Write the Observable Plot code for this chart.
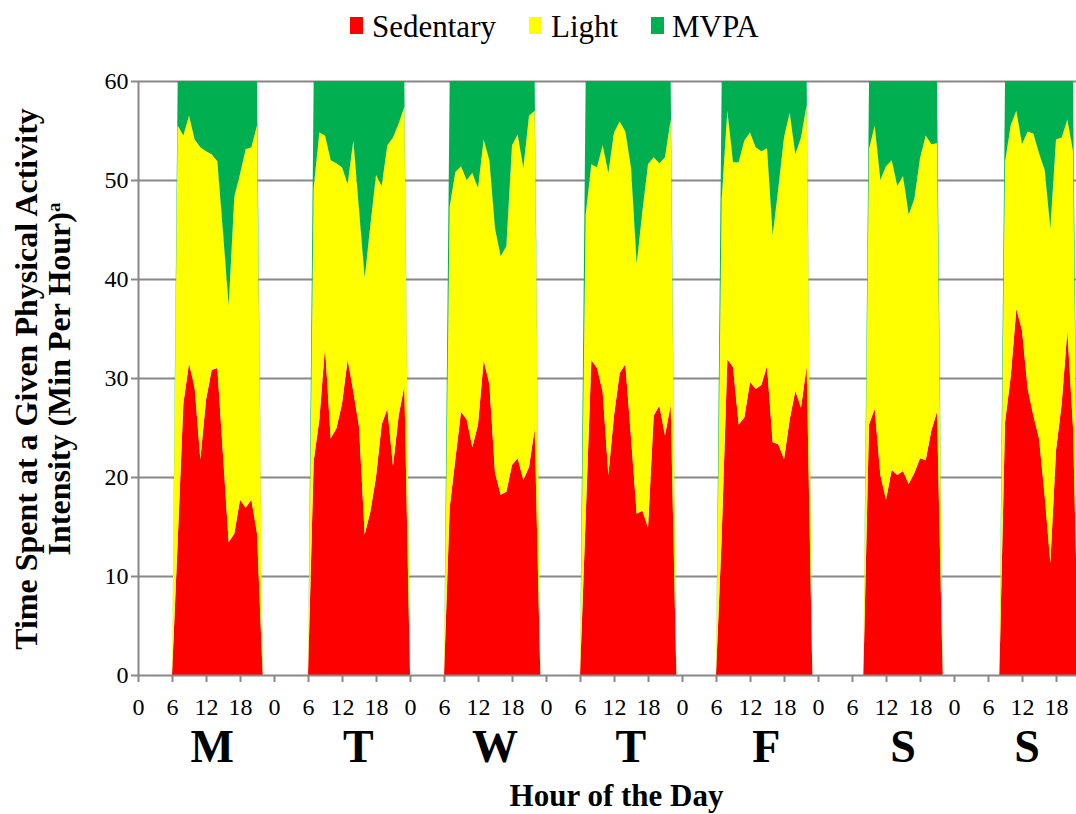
<!DOCTYPE html>
<html><head><meta charset="utf-8">
<script src="https://cdn.jsdelivr.net/npm/d3@7"></script>
<script src="https://cdn.jsdelivr.net/npm/@observablehq/plot@0.6"></script>
<style>
body{margin:0;background:#fff;font-family:"Liberation Serif","Times New Roman",serif;}
#legend{height:55px;}
#legend svg, #chart svg{display:block;}
#chart svg text{font-family:"Liberation Serif","Times New Roman",serif !important;}
</style></head><body>
<div id="legend"></div>
<div id="chart"></div>
<script>
const dayNames = ["M","T","W","T","F","S","S"];
const dayLabelHours = [13, 38.8, 62.9, 86.9, 110.8, 134.9, 156.8];
const seriesNames = ["Sedentary","Light","MVPA"];
const seriesColors = ["#FF0000","#FFFF00","#00B050"];
const firstHour = [7,7,7,7,7,9,9]; // first hour with data for each day
const sedentary = [
 [13.5,27.4,31.5,29.0,21.8,27.8,30.8,31.0,22.2,13.4,14.3,17.7,16.9,17.7,14.3],
 [21.6,25.8,33.1,23.9,24.9,27.4,31.9,28.6,25.1,14.2,16.5,20.0,25.3,26.9,21.1,26.2,29.2],
 [16.9,21.8,26.6,25.8,23.0,25.3,31.8,29.4,20.4,18.2,18.5,21.2,21.9,19.7,21.0,24.9],
 [16.0,31.8,31.0,28.6,20.2,26.2,30.5,31.4,24.0,16.3,16.6,14.9,26.2,27.2,24.2,27.3],
 [14.0,31.9,31.1,25.3,26.0,29.6,28.9,29.3,31.2,23.5,23.3,21.8,25.8,28.7,27.0,31.2],
 [25.3,26.9,20.2,17.7,20.7,20.2,20.6,19.3,20.4,21.9,21.7,24.7,26.6],
 [25.5,30.1,37.0,34.8,28.9,26.2,23.9,18.1,11.3,22.7,27.4,34.8,25.0]
];
const light = [
 [42.0,27.1,25.0,25.1,31.5,25.1,21.8,20.9,22.5,23.9,34.0,32.9,36.2,35.6,41.2],
 [27.6,29.0,21.4,28.1,26.8,23.9,17.7,25.4,21.9,25.9,28.9,30.5,24.1,26.6,33.2,29.5,28.2],
 [30.4,29.0,24.8,24.2,27.7,23.9,22.3,22.6,24.7,24.1,24.8,32.3,32.7,31.5,35.5,32.1],
 [30.5,19.8,20.3,24.9,30.5,28.6,25.4,23.5,27.2,25.2,30.2,36.7,26.1,24.5,28.1,28.8],
 [34.0,25.1,20.7,26.5,28.0,25.2,24.4,23.6,22.0,20.9,25.9,32.5,31.0,23.9,27.3,26.4],
 [27.8,28.6,29.8,33.7,31.3,29.2,29.8,27.2,27.7,30.3,32.8,28.9,27.1],
 [26.3,25.4,20.0,18.8,26.0,28.5,28.8,32.9,33.8,31.4,26.9,21.3,27.9]
];
const mvpa = [
 [4.5,5.5,3.5,5.9,6.7,7.1,7.4,8.1,15.3,22.7,11.7,9.4,6.9,6.7,4.5],
 [10.8,5.2,5.5,8.0,8.3,8.7,10.4,6.0,13.0,19.9,14.6,9.5,10.6,6.5,5.7,4.3,2.6],
 [12.7,9.2,8.6,10.0,9.3,10.8,5.9,8.0,14.9,17.7,16.7,6.5,5.4,8.8,3.5,3.0],
 [13.5,8.4,8.7,6.5,9.3,5.2,4.1,5.1,8.8,18.5,13.2,8.4,7.7,8.3,7.7,3.9],
 [12.0,3.0,8.2,8.2,6.0,5.2,6.7,7.1,6.8,15.6,10.8,5.7,3.2,7.4,5.7,2.4],
 [6.9,4.5,10.0,8.6,8.0,10.6,9.6,13.5,11.9,7.8,5.5,6.4,6.3],
 [8.2,4.5,3.0,6.4,5.1,5.3,7.3,9.0,14.9,5.9,5.7,3.9,7.1]
];
const yTicks = [0,10,20,30,40,50,60];
const xTicks = d3.range(0, 163, 6);

// build long table: every hour of the week, zero when not worn
const seriesData = [sedentary, light, mvpa];
const rows = [];
for (let t = 0; t < 168; t++) {
  const d = Math.floor(t / 24), h = t % 24;
  const i = h - firstHour[d];
  seriesNames.forEach((s, k) => {
    const arr = seriesData[k][d];
    const v = (i >= 0 && i < arr.length) ? arr[i] : 0;
    rows.push({t, series: s, value: v});
  });
}

const serif = "'Liberation Serif', 'Times New Roman', serif";
const pxPerHour = 34 / 6;
const plot = Plot.plot({
  width: 1076, height: 759,
  marginLeft: 138, marginRight: 0, marginTop: 26, marginBottom: 139,
  x: {domain: [0, 938 / pxPerHour], label: null},
  y: {domain: [0, 60], label: null},
  color: {domain: seriesNames, range: seriesColors},
  style: {fontFamily: serif, background: "#fff", color: "#000"},
  marks: [
    Plot.ruleY(yTicks.filter(d => d > 0), {stroke: "#888", strokeWidth: 2}),
    Plot.areaY(rows, Plot.stackY({order: seriesNames}, {x: "t", y: "value", z: "series", fill: "series", curve: "linear", clip: true})),
    Plot.ruleY([0], {stroke: "#888", strokeWidth: 2}),
    Plot.ruleX([0], {stroke: "#888", strokeWidth: 2}),
    Plot.axisX({ticks: xTicks, tickFormat: d => String(d % 24), tickSize: 7, tickPadding: 15, fontSize: 24, fontFamily: serif, stroke: "#888", strokeWidth: 2, fill: "#000", label: null}),
    Plot.axisY({ticks: yTicks, tickSize: 7, tickPadding: 3, fontSize: 24, fontFamily: serif, stroke: "#888", strokeWidth: 2, fill: "#000", label: null}),
    Plot.text(dayNames, {x: dayLabelHours, frameAnchor: "bottom", lineAnchor: "bottom", dy: 86, fontSize: 46, fontFamily: serif, fontWeight: "bold", fill: "#000"}),
    Plot.text(["Hour of the Day"], {frameAnchor: "bottom", lineAnchor: "bottom", dy: 130, dx: 9, fontSize: 31, fontFamily: serif, fontWeight: "bold", fill: "#000"})
  ]
});
document.getElementById("chart").appendChild(plot);

const svg = d3.select(plot);
// force serif, 24px tick labels
svg.selectAll("text").each(function () {
  this.style.fontFamily = serif;
  const p = this.closest("g[aria-label]");
  if (p && /tick label/.test(p.getAttribute("aria-label") || "")) this.style.fontSize = "24px";
});

// y-axis title (two rotated lines)
const g = svg.append("g").attr("font-family", serif)
  .attr("font-weight", "bold").attr("font-size", 32).attr("text-anchor", "middle").attr("fill", "#000");
g.append("text").attr("transform", "translate(37,324) rotate(-90)").text("Time Spent at a Given Physical Activity");
const t2 = g.append("text").attr("transform", "translate(70,324) rotate(-90)");
t2.append("tspan").text("Intensity (Min Per Hour)");
t2.append("tspan").attr("font-size", 19).attr("dy", "-0.55em").text("a");

// legend
const lg = d3.select("#legend").append("svg").attr("width", 1076).attr("height", 55)
  .attr("font-family", serif).attr("font-size", 31);
const legX = [{r: 350, t: 372}, {r: 529, t: 551}, {r: 651, t: 672}];
seriesNames.forEach((s, k) => {
  lg.append("rect").attr("x", legX[k].r).attr("y", 17).attr("width", 13).attr("height", 17).attr("fill", seriesColors[k]);
  lg.append("text").attr("x", legX[k].t).attr("y", 37).attr("fill", "#000").text(s);
});
</script>
</body></html>
